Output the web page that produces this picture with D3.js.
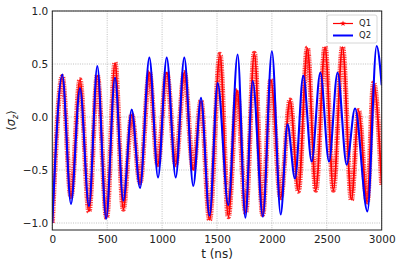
<!DOCTYPE html>
<html><head><meta charset="utf-8">
<script src="https://cdn.jsdelivr.net/npm/d3@7"></script>
<style>body{margin:0;background:#fff} text{font-family:"DejaVu Sans",sans-serif}</style>
</head><body><svg id="c" width="399" height="268"></svg>
<script>
// Q1 (red, markers) extrema
const q1Times  = [0, 91, 170, 252, 334, 410, 495, 571, 647, 723, 799, 884, 960, 1042, 1124, 1202, 1284, 1354, 1432, 1527, 1603, 1683, 1761, 1840, 1916, 1990, 2080, 2165, 2241, 2323, 2400, 2484, 2560, 2643, 2724, 2790, 2868, 2926, 3000];
const q1Values = [-1.0, 0.38, -0.75, 0.35, -0.89, 0.39, -0.95, 0.51, -0.87, 0.02, -0.62, 0.42, -0.45, 0.42, -0.45, 0.42, -0.50, 0.15, -0.97, 0.59, -0.94, 0.25, -0.90, 0.60, -0.92, 0.35, -0.76, 0.16, -0.70, 0.65, -0.69, 0.66, -0.69, 0.66, -0.78, 0.06, -0.80, 0.32, -0.64];
// Q2 (blue line) extrema
const q2Times  = [0, 91, 170, 252, 334, 410, 490, 571, 647, 723, 799, 884, 963, 1042, 1124, 1202, 1284, 1354, 1432, 1506, 1603, 1688, 1758, 1825, 1918, 2000, 2080, 2142, 2210, 2286, 2362, 2441, 2520, 2598, 2681, 2757, 2870, 2954, 3000];
const q2Values = [-1.0, 0.40, -0.82, 0.27, -0.84, 0.48, -0.96, 0.37, -0.79, 0.07, -0.67, 0.56, -0.57, 0.56, -0.57, 0.56, -0.65, 0.18, -0.93, 0.32, -0.83, 0.59, -0.95, 0.34, -0.94, 0.62, -0.92, -0.07, -0.58, 0.39, -0.42, 0.42, -0.42, 0.42, -0.45, 0.08, -0.89, 0.67, 0.30];
const seriesNames = ["Q1", "Q2"];
const xTicks = [0, 500, 1000, 1500, 2000, 2500, 3000];
const yTicks = [-1.0, -0.5, 0.0, 0.5, 1.0];

const W = 399, H = 268, m = {l: 52.3, r: 17.3, t: 11, b: 38};
const svg = d3.select("#c");
const x = d3.scaleLinear().domain([0, 3000]).range([m.l, W - m.r]);
const y = d3.scaleLinear().domain([-1.066, 1.0]).range([H - m.b, m.t]);

svg.append("defs").append("clipPath").attr("id", "clip")
  .append("rect").attr("x", m.l).attr("y", m.t).attr("width", W - m.l - m.r).attr("height", H - m.t - m.b);

// grid
const g = svg.append("g");
g.selectAll(".gx").data(xTicks).enter().append("line")
  .attr("x1", d => x(d)).attr("x2", d => x(d)).attr("y1", m.t).attr("y2", H - m.b)
  .attr("stroke", "#b0b0b0").attr("stroke-width", 0.8).attr("stroke-dasharray", "1,1.3");
g.selectAll(".gy").data(yTicks).enter().append("line")
  .attr("y1", d => y(d)).attr("y2", d => y(d)).attr("x1", m.l).attr("x2", W - m.r)
  .attr("stroke", "#b0b0b0").attr("stroke-width", 0.8).attr("stroke-dasharray", "1,1.3");

const line = d3.line().x(d => x(d[0])).y(d => y(d[1])).curve(d3.curveMonotoneX);
const d1 = q1Times.map((t, i) => [t, q1Values[i]]);
const d2 = q2Times.map((t, i) => [t, q2Values[i]]);

const plot = svg.append("g").attr("clip-path", "url(#clip)");
// Q1: dense star markers -> textured thick band
plot.append("path").datum(d1).attr("d", line).attr("fill", "none")
  .attr("stroke", "#ff0000").attr("stroke-width", 5.2).attr("stroke-dasharray", "0.9,0.8").attr("opacity", 0.8);
plot.append("path").datum(d1).attr("d", line).attr("fill", "none")
  .attr("stroke", "#ff0000").attr("stroke-width", 1.8);
plot.append("path").datum(d2).attr("d", line).attr("fill", "none")
  .attr("stroke", "#0000ff").attr("stroke-width", 2.1);

// axes
const xa = svg.append("g").attr("transform", `translate(0,${H - m.b})`)
  .call(d3.axisBottom(x).tickValues(xTicks).tickSize(0).tickPadding(6).tickFormat(d3.format("d")));
const ya = svg.append("g").attr("transform", `translate(${m.l},0)`)
  .call(d3.axisLeft(y).tickValues(yTicks).tickSize(0).tickPadding(4).tickFormat(d3.format(".1f")));
[xa, ya].forEach(a => {
  a.select(".domain").remove();
  a.selectAll("text").attr("font-size", 10.5).attr("fill", "#222").style("font-family", "DejaVu Sans");
});
// spines
svg.append("rect").attr("x", m.l).attr("y", m.t).attr("width", W - m.l - m.r).attr("height", H - m.t - m.b)
  .attr("fill", "none").attr("stroke", "#222").attr("stroke-width", 1);

// labels
svg.append("text").attr("x", (m.l + W - m.r) / 2).attr("y", 258).attr("text-anchor", "middle")
  .attr("font-size", 12).attr("fill", "#222").text("t (ns)");
const yl = svg.append("text").attr("transform", `translate(15,${(m.t + H - m.b) / 2}) rotate(-90)`)
  .attr("text-anchor", "middle").attr("font-size", 11.5).attr("fill", "#222");
yl.append("tspan").text("⟨");
yl.append("tspan").attr("font-style", "italic").text("σ");
yl.append("tspan").attr("font-style", "italic").attr("font-size", 8).attr("dy", 2.5).text("z");
yl.append("tspan").attr("dy", -2.5).text("⟩");

// legend
const lg = svg.append("g");
lg.append("rect").attr("x", 327).attr("y", 15).attr("width", 50).attr("height", 28).attr("rx", 2)
  .attr("fill", "#fff").attr("fill-opacity", 0.8).attr("stroke", "#ccc").attr("stroke-width", 0.8);
const colors = ["#ff0000", "#0000ff"];
seriesNames.forEach((s, i) => {
  const yy = 23.5 + i * 12;
  lg.append("line").attr("x1", 333).attr("x2", 353).attr("y1", yy).attr("y2", yy)
    .attr("stroke", colors[i]).attr("stroke-width", i === 0 ? 1.2 : 2);
  if (i === 0) lg.append("path").attr("d", d3.symbol(d3.symbolStar, 10)()).attr("transform", `translate(343,${yy})`)
    .attr("fill", colors[i]);
  lg.append("text").attr("x", 359).attr("y", yy).attr("dy", "0.35em").attr("font-size", 8.5).attr("fill", "#222").text(s);
});
</script></body></html>
